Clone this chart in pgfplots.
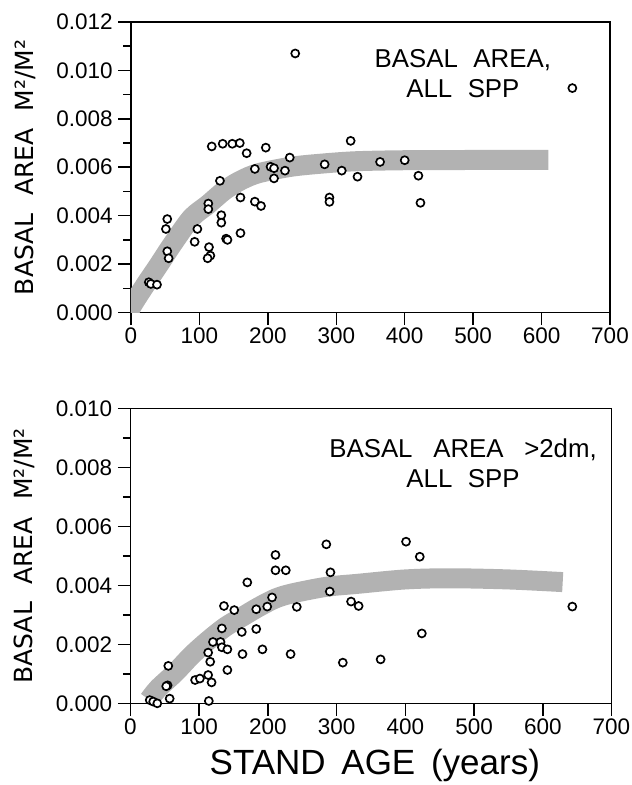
\documentclass[border=0pt]{standalone}
\usepackage{fontspec}
\setmainfont{Liberation Sans}
\newfontfamily\labfont{DejaVu Sans}
\usepackage{pgfplots}
\pgfplotsset{compat=1.18}
\pgfplotsset{
  baseax/.style={
    scale only axis,
    clip mode=individual,
    axis line style={line width=0.9pt},
    every tick/.style={line width=0.9pt, black},
    tick align=outside,
    xtick pos=bottom, ytick pos=left,
    major tick length=7.5pt, minor tick length=4.5pt,
    xmin=0, xmax=700,
    xtick={0,100,200,300,400,500,600,700},
    minor y tick num=1,
    scaled y ticks=false,
    /pgf/number format/assume math mode=true,
    tick label style={font=\fontsize{13.5}{16}\selectfont},
    xticklabel style={yshift=2pt},
    yticklabel style={/pgf/number format/.cd, fixed, fixed zerofill, precision=3},
    ylabel style={at={(axis description cs:0,0.5)}, anchor=center, yshift=63.6pt, font=\labfont\fontsize{15}{18}\selectfont},
    ylabel={BASAL\hspace{0.7em}AREA\hspace{0.7em}M²/M²},
  },
  band/.style={smooth, line width=12pt, color=black!30, line cap=butt},
  pts/.style={only marks, mark=*, mark size=2.4pt, mark options={fill=white, draw=black, line width=1pt}},
}
\begin{document}
\begin{tikzpicture}
\useasboundingbox (-78.6pt,-283.5pt) rectangle (300pt,187.5pt);
% ---------------- top panel ----------------
\begin{axis}[baseax,
  at={(0pt,0pt)}, anchor=south west,
  width=287.4pt, height=174.3pt,
  ymin=0, ymax=0.012,
  ytick={0,0.002,0.004,0.006,0.008,0.010,0.012},
]
\addplot[band] coordinates {
(-5,-0.0003) (0,0.0002) (20,0.0011) (40,0.00194) (60,0.0028) (88,0.0039)
(112,0.00445) (137,0.00505) (160,0.00545) (186,0.00575) (234,0.00602)
(283,0.00616) (330,0.00625) (400,0.00629) (500,0.0063) (610,0.0063)};
\addplot[pts] coordinates {
(240,0.0107) (118,0.00686) (134,0.00697) (148,0.00697) (159,0.0070) (169,0.00658)
(197,0.00681) (321,0.00709) (232,0.0064) (181,0.00593) (204,0.00602) (209,0.00596)
(209,0.00554) (225,0.00586) (283,0.00612) (308,0.00586) (331,0.00561) (130,0.00544)
(113,0.0045) (113,0.00427) (160,0.00475) (181,0.00458) (190,0.0044) (290,0.00475)
(290,0.00457) (132,0.00402) (132,0.00371) (53,0.00386) (51,0.00345) (97,0.00345)
(160,0.00328) (139,0.00305) (141,0.00300) (93,0.00292) (53,0.00253) (55,0.00224)
(114,0.0027) (116,0.00235) (112,0.00224) (26,0.00125) (29,0.00118) (38,0.00115)
(645,0.00927) (364,0.00622) (400,0.00629) (420,0.00565) (423,0.00453)};
\node[align=center, font=\fontsize{15.5}{18}\selectfont] at (axis cs:485,0.00985)
  {BASAL\hspace{0.6em}AREA,\\ALL\hspace{0.6em}SPP};
\end{axis}
% ---------------- bottom panel ----------------
\begin{axis}[baseax,
  at={(-0.3pt,-234.5pt)}, anchor=south west,
  width=288.6pt, height=177pt,
  ymin=0, ymax=0.010,
  ytick={0,0.002,0.004,0.006,0.008,0.010},
  xlabel={STAND\hspace{0.45em}AGE\hspace{0.45em}(years)},
  xlabel style={at={(axis description cs:0.508,0)}, anchor=center, yshift=-37pt, font=\fontsize{21}{24}\selectfont},
]
\addplot[band] coordinates {
(27,0.00012) (40.5,0.00051) (65,0.00104) (89.5,0.00164) (114,0.00215)
(138.5,0.0026) (163,0.00294) (187,0.00327) (211.6,0.00356) (236,0.00373)
(285,0.00395) (330,0.00405) (400,0.0042) (465,0.00424) (550,0.0042) (629,0.00411)};
\addplot[pts] coordinates {
(285,0.00539) (211,0.00503) (211,0.00451) (226,0.00451) (291,0.00444) (170,0.0041)
(290,0.00379) (206,0.00359) (321,0.00345) (332,0.0033) (136,0.0033) (151,0.00316)
(183,0.00319) (199,0.00328) (242,0.00327) (133,0.00254) (162,0.00242) (183,0.00252)
(120,0.00208) (131,0.00208) (133,0.0019) (141,0.00183) (113,0.00172) (116,0.00141)
(192,0.00183) (163,0.00167) (233,0.00167) (309,0.00138) (55,0.00127) (141,0.00113)
(94,0.00079) (101,0.00084) (113,0.00096) (118,0.00071) (54,0.00061) (52,0.00058)
(57,0.00016) (114,0.00008) (28,0.00011) (33,0.00006) (39,0.0)
(401,0.00548) (421,0.00497) (643,0.00328) (424,0.00237) (364,0.00149)};
\node[align=center, font=\fontsize{15.5}{18}\selectfont] at (axis cs:484,0.00815)
  {BASAL\hspace{0.8em}AREA\hspace{0.8em}>2dm,\\ALL\hspace{0.6em}SPP};
\end{axis}
\end{tikzpicture}
\end{document}
